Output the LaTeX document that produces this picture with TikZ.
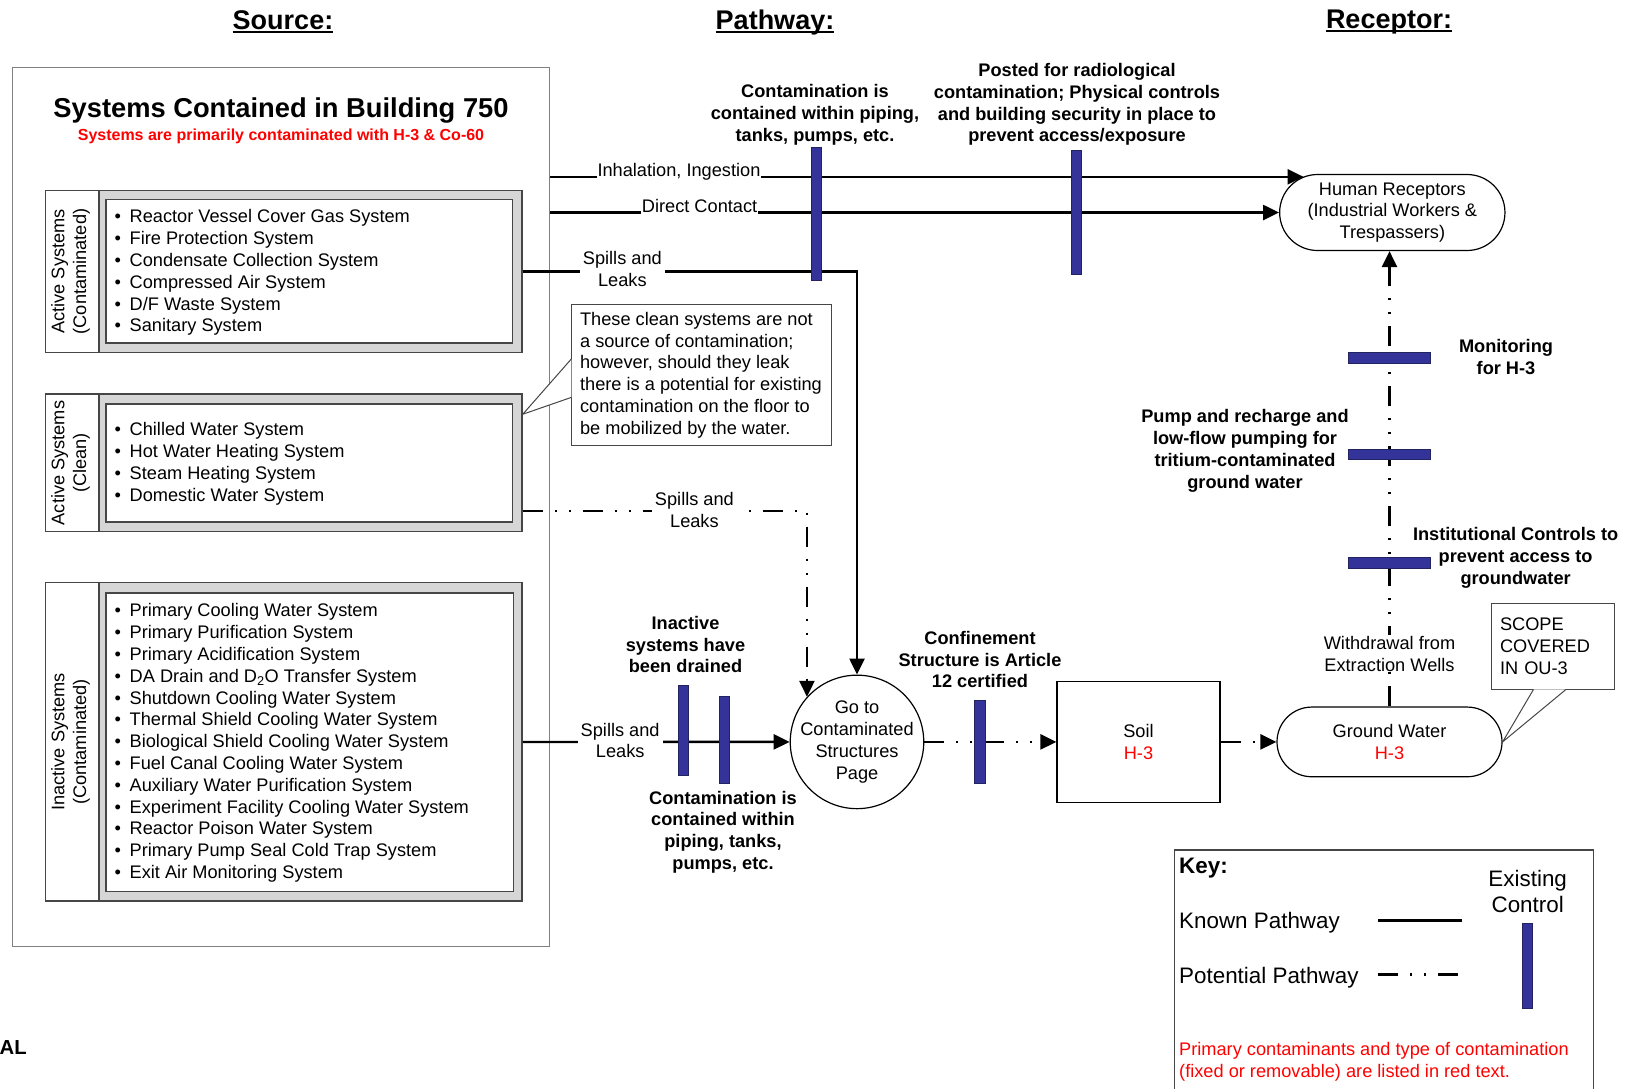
\documentclass[tikz,border=0pt]{standalone}
\usepackage{fontspec}
\setmainfont{Liberation Sans}
\usepackage{xcolor}
\usepackage{tikz}
\usetikzlibrary{arrows.meta}
\usetikzlibrary{shapes,shapes.misc}

\definecolor{barblue}{RGB}{51,51,153}
\definecolor{barline}{RGB}{35,35,95}
\definecolor{bandgray}{RGB}{214,214,214}
\definecolor{grpline}{RGB}{70,70,70}
\definecolor{srcline}{RGB}{128,128,128}

\newcommand\fnorm{\fontsize{18.2}{21.8}\selectfont}
\newcommand\fbig{\fontsize{22.4}{26}\selectfont}
\newcommand\fhead{\fontsize{27}{32}\selectfont\bfseries}
\newcommand\ulhead[1]{\setbox0=\hbox{#1}\rlap{\rule[-3.5pt]{\wd0}{2pt}}\box0}

\tikzset{>={Triangle[length=16pt,width=15pt]}}
\tikzset{
  known/.style={line width=2.4pt},
  potential/.style={line width=2.4pt,dash pattern=on 20pt off 12pt on 2pt off 12pt on 2pt off 12pt},
  pathlbl/.style={font=\fnorm,align=center,fill=white,inner xsep=3pt,inner ysep=1pt},
  ctltxt/.style={font=\fnorm\bfseries,align=center,inner sep=0pt},
  ctlbar/.style={draw=barline,fill=barblue,line width=1pt,inner sep=0pt},
  grpbox/.style={draw=grpline,fill=white,line width=1.5pt,inner sep=0pt},
  grpband/.style={draw=grpline,fill=bandgray,line width=1.5pt},
  grpinner/.style={draw=grpline,fill=white,line width=1.5pt},
  listitem/.style={font=\fnorm,anchor=base west,inner sep=0pt},
  recbox/.style={draw,line width=1.2pt,font=\fnorm,align=center,inner sep=0pt},
  notebox/.style={draw=grpline,fill=white,line width=1pt,font=\fnorm,align=left},
  notetail/.style={draw=grpline,fill=white,line width=1pt},
}

\begin{document}
\begin{tikzpicture}[x=1pt,y=-1pt]
  \useasboundingbox (0,0) rectangle (1631,1088);

  % column headings
  \node (hsrc) [font=\fhead] at (283,22.3) {\ulhead{Source:}};
  \node (hpath) [font=\fhead] at (775,22.3) {\ulhead{Pathway:}};
  \node (hrec) [font=\fhead] at (1389,22.3) {\ulhead{Receptor:}};

  % source box
  \node (srcbox) [draw=srcline,line width=1.3pt,minimum width=537pt,minimum height=879pt,inner sep=0pt] at (281,507.1) {};
  \node (title) [font=\fontsize{27.3}{32}\selectfont\bfseries] at (281,110.5) {Systems Contained in Building 750};
  \node (subtitle) [font=\fontsize{16}{19}\selectfont\bfseries,text=red] at (281,136.3) {Systems are primarily contaminated with H-3 \& Co-60};

  % active contaminated
  \node (actc) [grpbox,minimum width=476.4pt,minimum height=162.2pt] at (283.8,271.5) {};
  \draw[grpband] (98.8,190.4) rectangle (522,352.6);
  \draw[grpinner] (105.8,199.5) rectangle (512.6,343.2);
  \node (actclbl) [font=\fnorm,align=center,rotate=90] at (70.5,271.5) {Active Systems\\(Contaminated)};
  \foreach \t [count=\i from 0] in {Reactor Vessel Cover Gas System,Fire Protection System,Condensate Collection System,Compressed Air System,D/F Waste System,Sanitary System}
    \node (ac\i) [listitem] at (129.5,222.8+21.8*\i) {\llap{\textbullet\hspace{8.8pt}}\t};

  % active clean
  \node (actcl) [grpbox,minimum width=476.4pt,minimum height=137.6pt] at (283.8,462.8) {};
  \draw[grpband] (98.8,394) rectangle (522,531.6);
  \draw[grpinner] (105.8,404) rectangle (512.6,522);
  \node (actcllbl) [font=\fnorm,align=center,rotate=90] at (70.5,463) {Active Systems\\(Clean)};
  \foreach \t [count=\i from 0] in {Chilled Water System,Hot Water Heating System,Steam Heating System,Domestic Water System}
    \node (cl\i) [listitem] at (129.5,435.8+21.9*\i) {\llap{\textbullet\hspace{8.8pt}}\t};

  % inactive contaminated
  \node (inac) [grpbox,minimum width=476.4pt,minimum height=318.5pt] at (283.8,741.95) {};
  \draw[grpband] (98.8,582.7) rectangle (522,901.2);
  \draw[grpinner] (105.8,593) rectangle (513.5,891.5);
  \node (inaclbl) [font=\fnorm,align=center,rotate=90] at (70.5,741.9) {Inactive Systems\\(Contaminated)};
  \foreach \t [count=\i from 0] in {Primary Cooling Water System,Primary Purification System,Primary Acidification System,DA Drain and D\textsubscript{2}O Transfer System,Shutdown Cooling Water System,Thermal Shield Cooling Water System,Biological Shield Cooling Water System,Fuel Canal Cooling Water System,Auxiliary Water Purification System,Experiment Facility Cooling Water System,Reactor Poison Water System,Primary Pump Seal Cold Trap System,Exit Air Monitoring System}
    \node (in\i) [listitem] at (129.5,616.9+21.8*\i) {\llap{\textbullet\hspace{8.8pt}}\t};

  % receptors and media
  \node (hum) [recbox,rounded corners=37.9pt,minimum width=225.3pt,minimum height=76pt] at (1392.3,212.5) {Human Receptors\\(Industrial Workers \&\\Trespassers)};
  \node (circ) [draw,circle,line width=1.2pt,minimum size=133.5pt,inner sep=0pt] at (857,741.9) {};
  \node (circtxt) [font=\fnorm,align=center,inner sep=0pt] at (circ) {Go to\\Contaminated\\Structures\\Page};
  \node (soil) [recbox,minimum width=163pt,minimum height=121pt] at (1138.5,741.9) {Soil\\\textcolor{red}{H-3}};
  \node (gw) [recbox,rounded corners=34.8pt,minimum width=225pt,minimum height=69.7pt] at (1389.5,741.9) {Ground Water\\\textcolor{red}{H-3}};
  \coordinate (inhtip) at (1303.5,176.8);

  % pathways
  \draw[known,->] (srcbox.east |- inhtip) -- node[pathlbl,anchor=base,pos=0.171,inner xsep=1pt] {Inhalation, Ingestion} (inhtip);
  \draw[known,->] (srcbox.east |- hum.west) -- node[pathlbl,anchor=base,pos=0.205,inner xsep=1pt] {Direct Contact} (hum.west);
  \draw[known,->] (actc.east) -| node[pathlbl,pos=0.149,yshift=2.5pt] {Spills and\\Leaks} (circ.north);
  \draw[potential,->] ([yshift=-47.9pt]actcl.east) -| node[pathlbl,pos=0.302,yshift=1pt] {Spills and\\Leaks} (circ.138.5);
  \draw[known,->] (inac.east) -- node[pathlbl,pos=0.365,yshift=1.5pt] {Spills and\\Leaks} (circ.west);
  \draw[potential,->] (circ.east) -- (soil.west);
  \draw[potential,->] (soil.east) -- (gw.west);
  \draw[potential,->] (gw.north) -- node[pathlbl,pos=0.116] {Withdrawal from\\Extraction Wells} (gw.north |- hum.south);

  % existing controls
  \node (ctlpipe) [ctlbar,minimum width=10.4pt,minimum height=133.2pt] at (816.6,214.3) {};
  \node (ctlpost) [ctlbar,minimum width=10.4pt,minimum height=123.8pt] at (1076.6,212.7) {};
  \node (ctldrain) [ctlbar,minimum width=10.4pt,minimum height=89.5pt] at (683.4,730.3) {};
  \node (ctlcont) [ctlbar,minimum width=10.4pt,minimum height=87.3pt] at (724.6,739.7) {};
  \node (ctlconf) [ctlbar,minimum width=10.4pt,minimum height=82.6pt] at (980,742) {};
  \node (ctlmon) [ctlbar,minimum width=82pt,minimum height=10.4pt] at (1389.5,357.8) {};
  \node (ctlpump) [ctlbar,minimum width=82pt,minimum height=10.4pt] at (1389.5,454.6) {};
  \node (ctlinst) [ctlbar,minimum width=82pt,minimum height=10.4pt] at (1389.5,562.8) {};

  \node (txtpipe) [ctltxt] at (815,115) {Contamination is\\contained within piping,\\tanks, pumps, etc.};
  \node (txtpost) [ctltxt] at (1077,104.5) {Posted for radiological\\contamination; Physical controls\\and building security in place to\\prevent access/exposure};
  \node (txtdrain) [ctltxt] at (685.5,644.5) {Inactive\\systems have\\been drained};
  \node (txtcont) [ctltxt] at (723,832) {Contamination is\\contained within\\piping, tanks,\\pumps, etc.};
  \node (txtconf) [ctltxt] at (980,659.5) {Confinement\\Structure is Article\\12 certified};
  \node (txtmon) [ctltxt] at (1506,357) {Monitoring\\for H-3};
  \node (txtpump) [ctltxt] at (1245,451) {Pump and recharge and\\low-flow pumping for\\tritium-contaminated\\ground water};
  \node (txtinst) [ctltxt] at (1515.6,558) {Institutional Controls to\\prevent access to\\groundwater};

  % call-outs
  \node (cleannote) [notebox,minimum width=260pt,minimum height=140.4pt] at (701,375) {These clean systems are not\\a source of contamination;\\however, should they leak\\there is a potential for existing\\contamination on the floor to\\be mobilized by the water.};
  \draw[notetail] ([xshift=0.8pt,yshift=16pt]cleannote.west) -- ([yshift=-21pt]actcl.north east) -- ([xshift=0.8pt,yshift=-22.4pt]cleannote.west);
  \node (scope) [notebox,text width=106pt,inner xsep=8.4pt,minimum height=86.4pt] at (1553,646.5) {SCOPE\\COVERED\\IN OU-3};
  \draw[notetail] ([xshift=42.4pt,yshift=0.8pt]scope.south west) -- (gw.east) -- ([xshift=-48.9pt,yshift=0.8pt]scope.south east);

  % key
  \draw[draw=grpline,line width=1.3pt] (1174.3,1095) -- (1174.3,850) -- (1593.3,850) -- (1593.3,1095);
  \node (keyttl) [font=\fbig\bfseries,anchor=west,inner sep=0pt] at (1179,868.5) {Key:};
  \node (keyknown) [font=\fbig,anchor=west,inner sep=0pt] at (1179,923) {Known Pathway};
  \node (keypot) [font=\fbig,anchor=west,inner sep=0pt] at (1179,978) {Potential Pathway};
  \node (keyctl) [font=\fbig,align=center,inner sep=0pt] at (1527.7,891) {Existing\\Control};
  \draw[known] (1378,920.3) -- (1461.7,920.3);
  \draw[potential] (1378,974.3) -- (1459,974.3);
  \node (keybar) [ctlbar,minimum width=10pt,minimum height=85pt] at (1527.7,965.8) {};
  \node (keynote) [font=\fnorm,text=red,align=left,anchor=west,inner sep=0pt] at (1179,1061.5) {Primary contaminants and type of contamination\\(fixed or removable) are listed in red text.};

  \node (tag) [font=\fontsize{20.3}{24}\selectfont\bfseries,anchor=west,inner sep=0pt] at (-0.5,1047.5) {AL};
\end{tikzpicture}
\end{document}
